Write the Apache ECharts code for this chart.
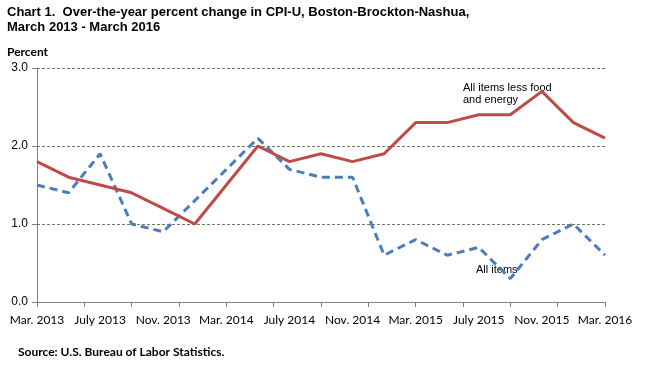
<!DOCTYPE html>
<html><head><meta charset="utf-8">
<script src="https://cdn.jsdelivr.net/npm/echarts@6/dist/echarts.min.js"></script>
<style>html,body{margin:0;padding:0;background:#fff}#c{width:657px;height:383px}</style>
</head><body><div id="c"></div>
<script>
// Months since Mar. 2013 (bimonthly observations)
const months = [0,2,4,6,8,10,12,14,16,18,20,22,24,26,28,30,32,34,36];
const allItems = [1.5,1.4,1.9,1.0,0.9,1.3,1.7,2.1,1.7,1.6,1.6,0.6,0.8,0.6,0.7,0.3,0.8,1.0,0.6];
const coreItems = [1.8,1.6,1.5,1.4,1.2,1.0,1.5,2.0,1.8,1.9,1.8,1.9,2.3,2.3,2.4,2.4,2.7,2.3,2.1];
const xTickLabels = {0:'Mar. 2013',4:'July 2013',8:'Nov. 2013',12:'Mar. 2014',16:'July 2014',20:'Nov. 2014',24:'Mar. 2015',28:'July 2015',32:'Nov. 2015',36:'Mar. 2016'};
const yTicks = [0,1,2,3];

const chart = echarts.init(document.getElementById('c'));
chart.setOption({
  animation:false,
  grid:{left:37,right:52,top:68,bottom:81},
  xAxis:[{
    type:'value',min:0,max:36,interval:4,
    axisLine:{show:true,lineStyle:{color:'#808080',width:1}},
    axisTick:{show:false},
    splitLine:{show:false},
    axisLabel:{formatter:v=>xTickLabels[v]||'',color:'#000',fontFamily:'Lato',fontSize:12,margin:12}
  },{
    type:'value',min:0,max:36,interval:3,position:'bottom',
    axisLine:{show:false},
    axisTick:{show:true,length:5,lineStyle:{color:'#808080'}},
    axisLabel:{show:false},splitLine:{show:false}
  }],
  yAxis:{
    type:'value',min:0,max:3,interval:1,
    axisLine:{show:true,lineStyle:{color:'#808080'}},
    axisTick:{show:true,length:5,lineStyle:{color:'#808080'}},
    splitLine:{show:true,lineStyle:{color:'#6b7b5b',type:[3,2],width:1}},
    axisLabel:{formatter:v=>v.toFixed(1),color:'#000',fontFamily:'Liberation Sans',fontSize:12,margin:9}
  },
  series:[{
    type:'line',name:'All items',xAxisIndex:0,
    data:months.map((m,i)=>[m,allItems[i]]),
    symbol:'none',lineStyle:{color:'#4A7EBB',width:3,type:[8,5]}
  },{
    type:'line',name:'All items less food and energy',xAxisIndex:0,
    data:months.map((m,i)=>[m,coreItems[i]]),
    symbol:'none',lineStyle:{color:'#BE4B48',width:3}
  }],
  graphic:[
    {type:'text',left:7,top:5,style:{text:'Chart 1.  Over-the-year percent change in CPI-U, Boston-Brockton-Nashua,\nMarch 2013 - March 2016',fontFamily:'Liberation Sans',fontWeight:'bold',fontSize:13,lineHeight:15,fill:'#000'}},
    {type:'text',left:7,top:46,style:{text:'Percent',fontFamily:'Lato',fontWeight:'bold',fontSize:12,fill:'#000'}},
    {type:'text',left:463,top:82,style:{text:'All items less food\nand energy',fontFamily:'Liberation Sans',fontSize:11,lineHeight:12,fill:'#000'}},
    {type:'text',left:476,top:264,style:{text:'All items',fontFamily:'Liberation Sans',fontSize:11,fill:'#000'}},
    {type:'text',left:18,top:346,style:{text:'Source: U.S. Bureau of Labor Statistics.',fontFamily:'Lato',fontWeight:'bold',fontSize:12,fill:'#000'}}
  ]
});
</script></body></html>
